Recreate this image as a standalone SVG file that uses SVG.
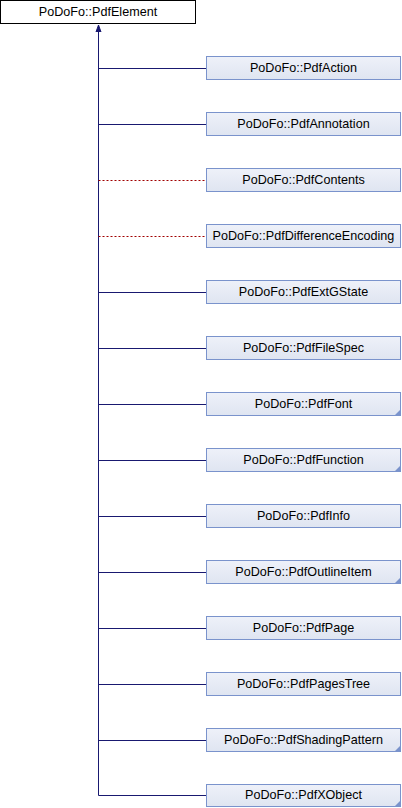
<svg xmlns="http://www.w3.org/2000/svg" width="402" height="808" viewBox="0 0 402 808">
<defs>
<linearGradient id="g" x1="0" y1="0" x2="0" y2="1">
<stop offset="0" stop-color="#eef1f9"/>
<stop offset="1" stop-color="#dfe5f1"/>
</linearGradient>
<marker id="arr" markerWidth="8" markerHeight="8" refX="7" refY="4" orient="auto" markerUnits="userSpaceOnUse">
<path d="M0,1.5 L7,4 L0,6.5 Z" fill="#191970" stroke="#191970" stroke-width="1"/>
</marker>
</defs>
<style>
text{font-family:"Liberation Sans",Arial,sans-serif;font-size:12.6px;fill:#000;text-anchor:middle}
.n rect{fill:url(#g);stroke:#7a93cc;stroke-width:1}
.root rect{fill:#fff;stroke:#000;stroke-width:1}
.c{fill:#7a93cc}
.s{stroke:#191970;stroke-width:1;fill:none}
.d{stroke:#a00000;stroke-width:1;fill:none;stroke-dasharray:2,2}
</style>
<g id="connectors">
<path class="s" d="M98.5,795.5 V25" marker-end="url(#arr)"/>
<path class="s" d="M98.5,68.5 H206"/>
<path class="s" d="M98.5,124.5 H206"/>
<path class="d" d="M98.5,180.5 H206"/>
<path class="d" d="M98.5,236.5 H206"/>
<path class="s" d="M98.5,292.5 H206"/>
<path class="s" d="M98.5,348.5 H206"/>
<path class="s" d="M98.5,404.5 H206"/>
<path class="s" d="M98.5,460.5 H206"/>
<path class="s" d="M98.5,516.5 H206"/>
<path class="s" d="M98.5,572.5 H206"/>
<path class="s" d="M98.5,628.5 H206"/>
<path class="s" d="M98.5,684.5 H206"/>
<path class="s" d="M98.5,740.5 H206"/>
<path class="s" d="M98.5,795.5 H206"/>
</g>
<g id="PdfElement" class="root"><rect x="0.5" y="0.5" width="195" height="23"/><text x="98" y="15.5">PoDoFo::PdfElement</text></g>
<g id="PdfAction" class="n"><rect x="206.5" y="56.5" width="194" height="23"/><text x="303.5" y="71.5">PoDoFo::PdfAction</text></g>
<g id="PdfAnnotation" class="n"><rect x="206.5" y="112.5" width="194" height="23"/><text x="303.5" y="127.5">PoDoFo::PdfAnnotation</text></g>
<g id="PdfContents" class="n"><rect x="206.5" y="168.5" width="194" height="23"/><text x="303.5" y="183.5">PoDoFo::PdfContents</text></g>
<g id="PdfDifferenceEncoding" class="n"><rect x="206.5" y="224.5" width="194" height="23"/><text x="303.5" y="239.5">PoDoFo::PdfDifferenceEncoding</text></g>
<g id="PdfExtGState" class="n"><rect x="206.5" y="280.5" width="194" height="23"/><text x="303.5" y="295.5">PoDoFo::PdfExtGState</text></g>
<g id="PdfFileSpec" class="n"><rect x="206.5" y="336.5" width="194" height="23"/><text x="303.5" y="351.5">PoDoFo::PdfFileSpec</text></g>
<g id="PdfFont" class="n"><rect x="206.5" y="392.5" width="194" height="23"/><path class="c" d="M400,410 V415 H395 Z"/><text x="303.5" y="407.5">PoDoFo::PdfFont</text></g>
<g id="PdfFunction" class="n"><rect x="206.5" y="448.5" width="194" height="23"/><path class="c" d="M400,466 V471 H395 Z"/><text x="303.5" y="463.5">PoDoFo::PdfFunction</text></g>
<g id="PdfInfo" class="n"><rect x="206.5" y="504.5" width="194" height="23"/><text x="303.5" y="519.5">PoDoFo::PdfInfo</text></g>
<g id="PdfOutlineItem" class="n"><rect x="206.5" y="560.5" width="194" height="23"/><path class="c" d="M400,578 V583 H395 Z"/><text x="303.5" y="575.5">PoDoFo::PdfOutlineItem</text></g>
<g id="PdfPage" class="n"><rect x="206.5" y="616.5" width="194" height="23"/><text x="303.5" y="631.5">PoDoFo::PdfPage</text></g>
<g id="PdfPagesTree" class="n"><rect x="206.5" y="672.5" width="194" height="23"/><text x="303.5" y="687.5">PoDoFo::PdfPagesTree</text></g>
<g id="PdfShadingPattern" class="n"><rect x="206.5" y="728.5" width="194" height="23"/><path class="c" d="M400,746 V751 H395 Z"/><text x="303.5" y="743.5">PoDoFo::PdfShadingPattern</text></g>
<g id="PdfXObject" class="n"><rect x="206.5" y="784.5" width="194" height="22"/><path class="c" d="M400,801 V806 H395 Z"/><text x="303.5" y="799">PoDoFo::PdfXObject</text></g>
</svg>
